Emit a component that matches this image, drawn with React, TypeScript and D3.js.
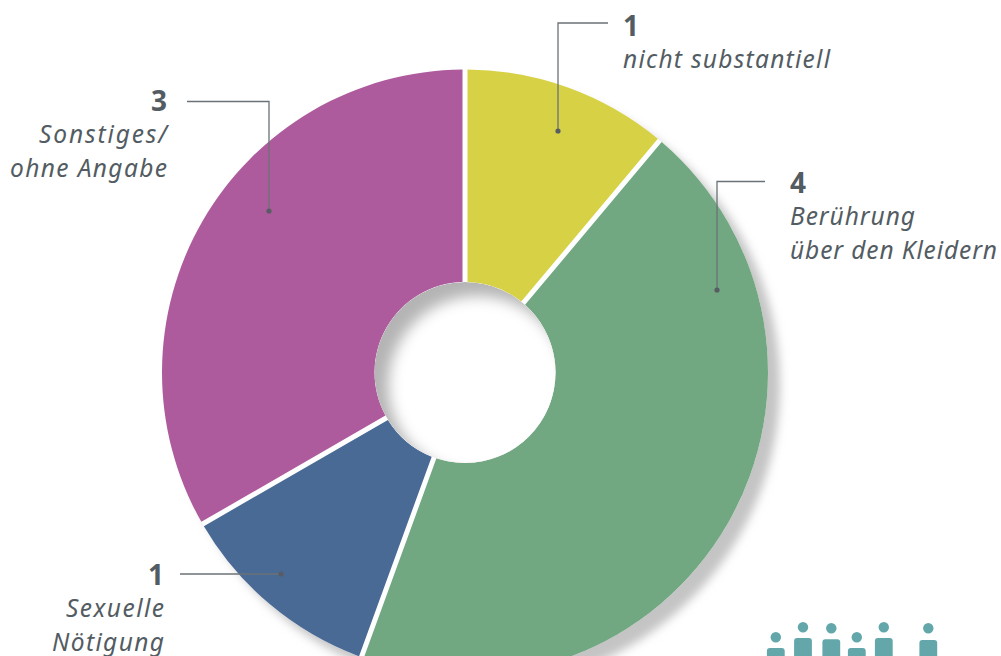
import React from 'react';
import * as d3 from 'd3';

const categories = ['nicht substantiell', 'Berührung über den Kleidern', 'Sexuelle Nötigung', 'Sonstiges/ ohne Angabe'];
const counts = [1, 4, 1, 3];
const sliceColors = ['#d7d145', '#71a781', '#4a6a96', '#ae5b9e'];

// wrapped label lines, same order as categories
const labelLines = [['nicht substantiell'], ['Berührung', 'über den Kleidern'], ['Sexuelle', 'Nötigung'], ['Sonstiges/', 'ohne Angabe']];
// measured widths of those lines, the original font is wider than Noto
const lineWidths = [[207], [125, 207], [98, 112], [128, 157]];

const width = 1001;
const height = 656;
const cx = 465;
const cy = 372.5;
const outerR = 303;
const innerR = 90.5;
const textColor = '#535c62';
const lineColor = '#6b7277';
const fontFamily = "'Noto Sans', sans-serif";

// label anchors and leader paths, absolute page pixels
const labelLayout = [
  { x: 623, y: 36, anchor: 'start', leader: [[608, 23], [558, 23], [558, 131]] },
  { x: 790, y: 193, anchor: 'start', leader: [[765, 181.5], [717, 181.5], [717, 290]] },
  { x: 164, y: 585, anchor: 'end', leader: [[180, 574], [281, 574]] },
  { x: 167, y: 111, anchor: 'end', leader: [[187, 101.5], [269, 101.5], [269, 211]] },
];

// little people icon at the bottom right, cut off by the page edge
const people = [
  { x: 775.8, head: 637.3, top: 648 },
  { x: 803, head: 627.3, top: 638 },
  { x: 831.3, head: 628.3, top: 639.3 },
  { x: 856.8, head: 637.3, top: 648 },
  { x: 883.8, head: 627.3, top: 638 },
  { x: 928.3, head: 628.3, top: 640 },
];

const App = () => {
  const pie = d3.pie<number>().value(d => d).sort(null);
  const arc = d3.arc<d3.PieArcDatum<number>>()
    .innerRadius(innerR)
    .outerRadius(outerR)
    .padAngle(5 / outerR)
    .padRadius(outerR);
  const slices = pie(counts);
  const leaderLine = d3.line();

  return (
    <svg
      width={width}
      height={height}
      viewBox={`0 0 ${width} ${height}`}
      style={{ position: 'fixed', left: 0, top: 0, background: '#fff' }}
    >
      <defs>
        <filter id="outerBlur" x="-20%" y="-20%" width="140%" height="140%">
          <feGaussianBlur stdDeviation="5" />
        </filter>
        <filter id="innerBlur" x="-40%" y="-40%" width="180%" height="180%">
          <feGaussianBlur stdDeviation="7" />
        </filter>
        <clipPath id="holeClip">
          <circle cx={cx} cy={cy} r={innerR} />
        </clipPath>
      </defs>

      {/* drop shadow of the ring */}
      <circle cx={cx + 12} cy={cy + 12} r={outerR} fill="#c4c4c4" filter="url(#outerBlur)" />
      <circle cx={cx} cy={cy} r={outerR} fill="#fff" />

      <g transform={`translate(${cx},${cy})`}>
        {slices.map((d, i) => (
          <path key={categories[i]} d={arc(d) as string} fill={sliceColors[i]} />
        ))}
      </g>

      {/* hole with inner shadow */}
      <g clipPath="url(#holeClip)">
        <circle cx={cx} cy={cy} r={innerR} fill="#b4b4b4" />
        <circle cx={cx + 13} cy={cy + 13} r={innerR - 1} fill="#fff" filter="url(#innerBlur)" />
      </g>

      {labelLayout.map((l, i) => {
        const end = l.leader[l.leader.length - 1];
        return (
          <g key={categories[i]}>
            <path d={leaderLine(l.leader as [number, number][]) as string} fill="none" stroke={lineColor} strokeWidth={1.3} />
            <circle cx={end[0]} cy={end[1]} r={2.6} fill="#565d63" />
            <text
              x={l.x}
              y={l.y}
              textAnchor={l.anchor}
              fontFamily={fontFamily}
              fontWeight={700}
              fontSize={28}
              fill={textColor}
            >
              {counts[i]}
            </text>
            {labelLines[i].map((t, j) => (
              <text
                key={t}
                x={l.x}
                y={l.y + 32 + j * 33.5}
                textAnchor={l.anchor}
                fontFamily={fontFamily}
                fontStyle="italic"
                fontSize={24.5}
                textLength={lineWidths[i][j]}
                lengthAdjust="spacing"
                fill={textColor}
              >
                {t}
              </text>
            ))}
          </g>
        );
      })}

      {people.map(p => (
        <g key={p.x} fill="#63a7ab">
          <circle cx={p.x} cy={p.head} r={5.2} />
          <rect x={p.x - 8.9} y={p.top} width={17.8} height={40} rx={3} />
        </g>
      ))}
    </svg>
  );
};

export default App;
